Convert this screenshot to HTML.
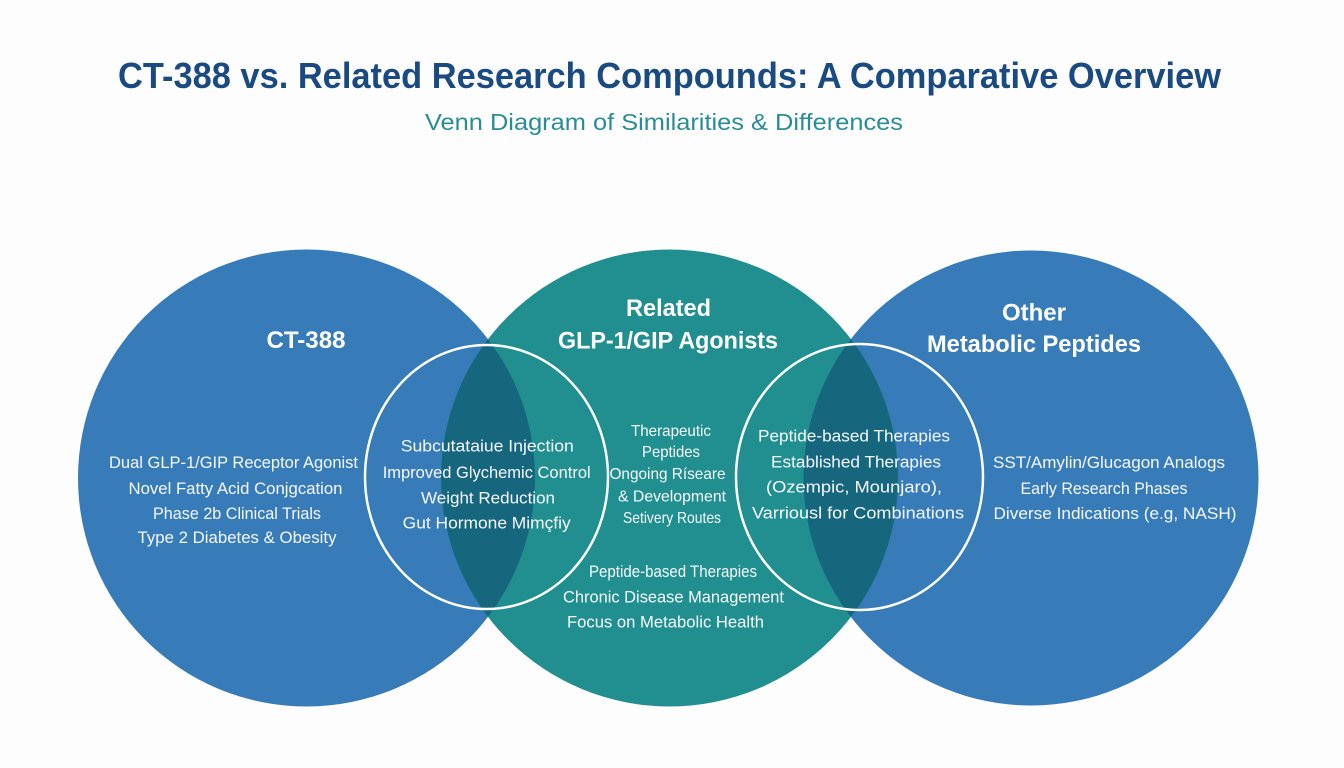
<!DOCTYPE html>
<html>
<head>
<meta charset="utf-8">
<style>
html,body{margin:0;padding:0;background:#fdfdfe;}
svg{display:block;}
text{font-family:"Liberation Sans",Arial,sans-serif;}
</style>
</head>
<body>
<svg width="1344" height="768" viewBox="0 0 1344 768" xmlns="http://www.w3.org/2000/svg">
  <defs>
    <clipPath id="cl"><circle cx="306.5" cy="478" r="228.5"/></clipPath>
    <clipPath id="cr"><circle cx="1031" cy="478" r="227.5"/></clipPath>
  </defs>
  <rect width="1344" height="768" fill="#fdfdfe"/>

  <!-- Title -->
  <text x="669.5" y="88" font-size="36" font-weight="bold" fill="#1a4a82" text-anchor="middle" textLength="1103" lengthAdjust="spacingAndGlyphs">CT-388 vs. Related Research Compounds: A Comparative Overview</text>
  <text x="664" y="130" font-size="23" fill="#2a8d95" text-anchor="middle" textLength="478" lengthAdjust="spacingAndGlyphs">Venn Diagram of Similarities &amp; Differences</text>

  <!-- Circles -->
  <circle cx="306.5" cy="478" r="228.5" fill="#377bb8"/>
  <circle cx="1031" cy="478" r="227.5" fill="#377bb8"/>
  <circle cx="669.5" cy="478" r="228.5" fill="#218f90"/>
  <circle cx="669.5" cy="478" r="228.5" fill="#16677e" clip-path="url(#cl)"/>
  <circle cx="669.5" cy="478" r="228.5" fill="#16677e" clip-path="url(#cr)"/>

  <!-- Rings -->
  <ellipse cx="486.5" cy="477" rx="121.5" ry="132" fill="none" stroke="#ffffff" stroke-width="2.5"/>
  <ellipse cx="859.5" cy="477" rx="123.5" ry="133" fill="none" stroke="#ffffff" stroke-width="2.5"/>

  <!-- Headers -->
  <g fill="#ffffff" font-weight="bold" font-size="24" text-anchor="middle">
    <text x="306" y="348" textLength="79" lengthAdjust="spacingAndGlyphs">CT-388</text>
    <text x="668.5" y="316" textLength="85" lengthAdjust="spacingAndGlyphs">Related</text>
    <text x="668" y="348.5" textLength="220" lengthAdjust="spacingAndGlyphs">GLP-1/GIP Agonists</text>
    <text x="1034" y="320.5" textLength="64" lengthAdjust="spacingAndGlyphs">Other</text>
    <text x="1034" y="352" textLength="214" lengthAdjust="spacingAndGlyphs">Metabolic Peptides</text>
  </g>

  <!-- Body text -->
  <g fill="#f6f8fb" font-size="17" text-anchor="middle">
    <!-- Left list -->
    <text x="233.5" y="468" textLength="249" lengthAdjust="spacingAndGlyphs">Dual GLP-1/GIP Receptor Agonist</text>
    <text x="235.5" y="494" textLength="214" lengthAdjust="spacingAndGlyphs">Novel Fatty Acid Conjgcation</text>
    <text x="237" y="519" textLength="168" lengthAdjust="spacingAndGlyphs">Phase 2b Clinical Trials</text>
    <text x="237" y="543" textLength="199" lengthAdjust="spacingAndGlyphs">Type 2 Diabetes &amp; Obesity</text>

    <!-- Left ring -->
    <text x="487.3" y="451.5" textLength="173" lengthAdjust="spacingAndGlyphs">Subcutataiue Injection</text>
    <text x="486.7" y="478" textLength="208" lengthAdjust="spacingAndGlyphs">Improved Glychemic Control</text>
    <text x="488" y="503.5" textLength="134" lengthAdjust="spacingAndGlyphs">Weight Reduction</text>
    <text x="486.7" y="528.5" textLength="168" lengthAdjust="spacingAndGlyphs">Gut Hormone Mimçfiy</text>

    <!-- Right ring -->
    <text x="854" y="441.5" textLength="192" lengthAdjust="spacingAndGlyphs">Peptide-based Therapies</text>
    <text x="856" y="467.5" textLength="170" lengthAdjust="spacingAndGlyphs">Established Therapies</text>
    <text x="854" y="492.5" textLength="176" lengthAdjust="spacingAndGlyphs">(Ozempic, Mounjaro),</text>
    <text x="858" y="518.5" textLength="212" lengthAdjust="spacingAndGlyphs">Varriousl for Combinations</text>

    <!-- Right list -->
    <text x="1109" y="468" textLength="232" lengthAdjust="spacingAndGlyphs">SST/Amylin/Glucagon Analogs</text>
    <text x="1104" y="494" textLength="167" lengthAdjust="spacingAndGlyphs">Early Research Phases</text>
    <text x="1115" y="519" textLength="243" lengthAdjust="spacingAndGlyphs">Diverse Indications (e.g, NASH)</text>

    <!-- Middle bottom -->
    <text x="673" y="577" textLength="168" lengthAdjust="spacingAndGlyphs">Peptide-based Therapies</text>
    <text x="673.5" y="602.5" textLength="221" lengthAdjust="spacingAndGlyphs">Chronic Disease Management</text>
    <text x="665.5" y="627.5" textLength="197" lengthAdjust="spacingAndGlyphs">Focus on Metabolic Health</text>
  </g>

  <!-- Middle center (smaller) -->
  <g fill="#f6f8fb" font-size="16" text-anchor="middle">
    <text x="671" y="436" textLength="80" lengthAdjust="spacingAndGlyphs">Therapeutic</text>
    <text x="671" y="457" textLength="58" lengthAdjust="spacingAndGlyphs">Peptides</text>
    <text x="667.5" y="479" textLength="116" lengthAdjust="spacingAndGlyphs">Ongoing Ríseare</text>
    <text x="672" y="501.5" textLength="108" lengthAdjust="spacingAndGlyphs">&amp; Development</text>
    <text x="672" y="523" textLength="98" lengthAdjust="spacingAndGlyphs">Setivery Routes</text>
  </g>
</svg>
</body>
</html>
